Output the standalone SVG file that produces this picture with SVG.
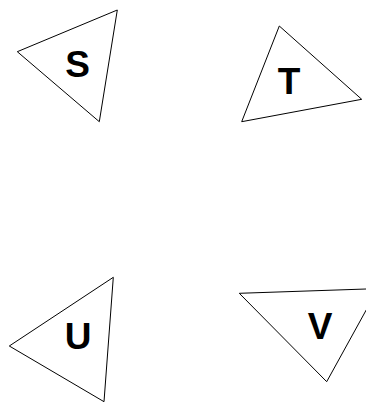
<svg xmlns="http://www.w3.org/2000/svg" width="366" height="402" viewBox="0 0 366 402">
<style>
.tri{fill:#fff;stroke:#000;stroke-width:1}
.lbl{font-family:"Liberation Sans",Arial,sans-serif;font-weight:bold;font-size:37px;fill:#000;text-anchor:middle}
</style>
<rect width="366" height="402" fill="#fff"/>
<g id="connectors"></g>
<g id="S"><polygon class="tri" points="17.3,51.7 117.3,10 99.3,121.7"/><text class="lbl" x="77.5" y="77">S</text></g>
<g id="T"><polygon class="tri" points="279.3,26 361.7,99.3 241.7,121.7"/><text class="lbl" x="289" y="93.5">T</text></g>
<g id="U"><polygon class="tri" points="113.3,277.3 9.3,346 104,401.7"/><text class="lbl" x="78" y="349">U</text></g>
<g id="V"><polygon class="tri" points="239.3,293.3 378,288.6 326.7,381.7"/><text class="lbl" x="320" y="338.5">V</text></g>
</svg>
